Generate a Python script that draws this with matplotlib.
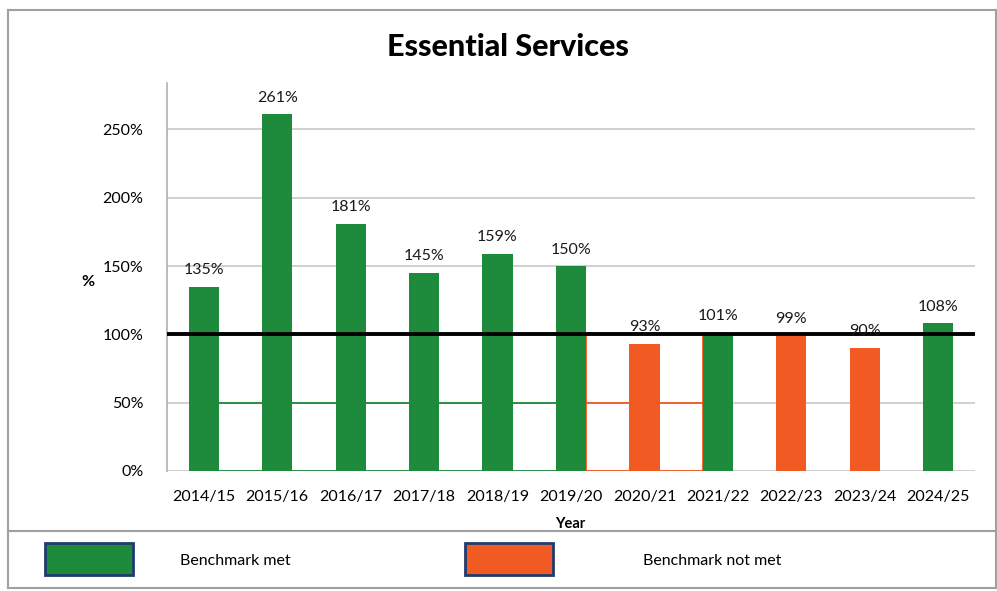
import numpy as np
import matplotlib.pyplot as plt
from matplotlib.patches import Rectangle
from matplotlib.lines import Line2D

years = ['2014/15', '2015/16', '2016/17', '2017/18', '2018/19', '2019/20',
         '2020/21', '2021/22', '2022/23', '2023/24', '2024/25']
values = [135, 261, 181, 145, 159, 150, 93, 101, 99, 90, 108]
benchmark = 100
yticks = [0, 50, 100, 150, 200, 250]

GREEN = '#1e8a3c'
ORANGE = '#f15a22'
GRID = '#c8c8c8'

plt.rcParams['font.family'] = ['Lato', 'DejaVu Sans']

fig = plt.figure(figsize=(9.97, 5.91), dpi=100)
W, H = 997, 591


def fx(px):
    return px / W


def fy(py):
    return 1 - py / H


# outer frame and legend box
frame = [
    ((8, 10), (996, 10)), ((8, 10), (8, 588)), ((996, 10), (996, 588)),
    ((8, 531), (996, 531)), ((8, 588), (996, 588)),
]
for (x0, y0), (x1, y1) in frame:
    fig.add_artist(Line2D([fx(x0), fx(x1)], [fy(y0), fy(y1)], color='#a0a0a0', lw=1.5))

ax = fig.add_axes([fx(167), fy(471), fx(975) - fx(167), fy(83) - fy(471)])

x = np.arange(len(years))
width = 0.41
colors = [GREEN if v >= benchmark else ORANGE for v in values]

# gridlines (gray), partly recoloured like the source render
ax.set_ylim(0, 284)
ax.set_xlim(-0.5, len(years) - 0.5)
for t in yticks:
    if t == benchmark:
        continue
    ax.axhline(t, color=GRID, lw=1.2, zorder=0)

# coloured segments between bars (as in the original image)
half = width / 2
for i in range(5):
    for t in (0, 50):
        ax.plot([x[i] + half, x[i + 1] - half], [t, t], color=GREEN, lw=1.3, zorder=1)
for t in (0, 50):
    ax.plot([x[5] + half, x[7] - half], [t, t], color=ORANGE, lw=1.3, zorder=1)
for xi in (x[5] + half, x[7] - half):
    ax.plot([xi, xi], [0, benchmark], color=ORANGE, lw=1.3, zorder=1)

ax.bar(x, values, width=width, color=colors, zorder=2)
ax.axhline(benchmark, color='black', lw=2.8, zorder=3)

for xi, v in zip(x, values):
    ax.text(xi, v + 7, f'{v}%', ha='center', va='bottom', fontsize=11.5, color='#1a1a1a', zorder=4)

ax.set_xticks(x)
ax.set_xticklabels(years, fontsize=11.5)
ax.set_yticks(yticks)
ax.set_yticklabels([f'{t}%' for t in yticks], fontsize=11.5)
ax.tick_params(length=0)
ax.tick_params(axis='x', pad=14)
ax.tick_params(axis='y', pad=17)
for s in ['top', 'right', 'bottom']:
    ax.spines[s].set_visible(False)
ax.spines['left'].set_color('#b0b0b0')
ax.spines['left'].set_linewidth(1.2)

fig.text(fx(508), fy(47), 'Essential Services', ha='center', va='center',
         fontsize=22, fontweight='black')
fig.text(fx(570), fy(524), 'Year', ha='center', va='center', fontsize=10.5, fontweight='bold')
fig.text(fx(88), fy(282), '%', ha='center', va='center', fontsize=11.5, fontweight='bold')

# legend
legend_items = [('Benchmark met', GREEN, 45, 180), ('Benchmark not met', ORANGE, 465, 643)]
for label, col, px, tx in legend_items:
    fig.add_artist(Rectangle((fx(px), fy(575)), fx(88), fy(543) - fy(575),
                             facecolor=col, edgecolor='#1f3b70', lw=2))
    fig.text(fx(tx), fy(561), label, ha='left', va='center', fontsize=11.5)

fig.savefig('out.png', dpi=100)
